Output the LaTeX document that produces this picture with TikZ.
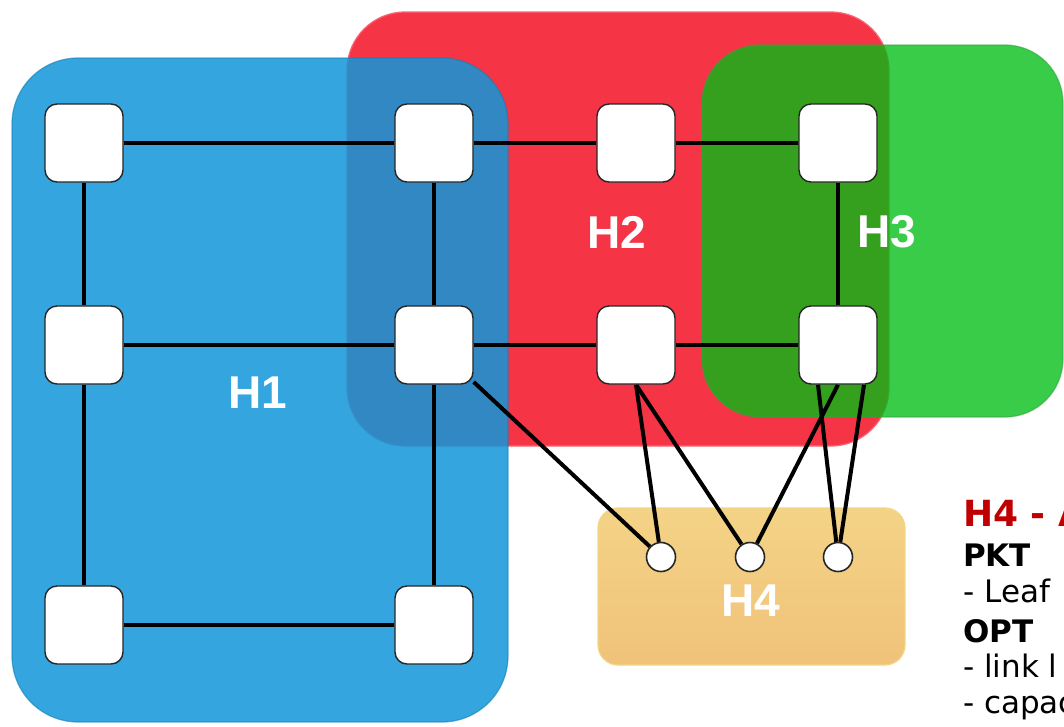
\documentclass[tikz,border=0pt]{standalone}
\usepackage{fontspec}
\newfontfamily\labelfont{Liberation Sans}
\newfontfamily\notefont{DejaVu Sans}
\pgfdeclarelayer{boxlayer}
\pgfdeclarelayer{edgelayer}
\pgfsetlayers{boxlayer,edgelayer,main}
\definecolor{hblue}{RGB}{19,150,216}
\definecolor{hred}{RGB}{245,52,70}
\definecolor{hgreen}{RGB}{0,190,20}
\definecolor{horangetop}{RGB}{243,211,134}
\definecolor{horangebot}{RGB}{240,194,122}
\definecolor{horangeline}{RGB}{244,214,128}
\definecolor{hdarkred}{RGB}{192,0,0}
\begin{document}
\begin{tikzpicture}[x=1pt,y=-1pt,
  router/.style={draw=black!85,line width=1.4pt,fill=white,rounded corners=12pt,
    minimum width=78pt,minimum height=78pt,inner sep=0pt},
  leaf/.style={circle,draw=black!85,line width=1.6pt,fill=white,minimum size=29pt,inner sep=0pt},
  link/.style={line width=4pt,black},
  hlabel/.style={text=white,inner sep=0pt,font=\labelfont\bfseries\fontsize{46}{46}\selectfont},
  notehead/.style={anchor=base west,inner sep=0pt,text=hdarkred,font=\notefont\bfseries\fontsize{36}{36}\selectfont},
  notebold/.style={anchor=base west,inner sep=0pt,font=\notefont\bfseries\fontsize{31}{31}\selectfont},
  noteplain/.style={anchor=base west,inner sep=0pt,font=\notefont\fontsize{31}{31}\selectfont},
]
\useasboundingbox (0,0) rectangle (1064,726);

\begin{pgfonlayer}{boxlayer}
  % H2 red
  \draw[fill=hred,draw=hred!75!white,line width=1.2pt,rounded corners=58pt]
    (347,12) rectangle (889,446);
  % H1 blue
  \draw[fill=hblue,fill opacity=0.86,draw=hblue!85!black,draw opacity=0.6,line width=1.2pt,rounded corners=66pt]
    (12,58) rectangle (508,722);
  % H3 green
  \draw[fill=hgreen,fill opacity=0.78,draw=hgreen!60!gray,draw opacity=0.6,line width=1.2pt,rounded corners=58pt]
    (702,45) rectangle (1063,417);
  % H4 orange
  \shade[top color=horangetop,bottom color=horangebot,rounded corners=20pt]
    (598,508) rectangle (905,665);
  \draw[draw=horangeline,line width=1.2pt,rounded corners=20pt]
    (598,508) rectangle (905,665);
\end{pgfonlayer}

% routers
\node[router] (n11) at (84,143) {};
\node[router] (n12) at (434,143) {};
\node[router] (n13) at (636,143) {};
\node[router] (n14) at (838,143) {};
\node[router] (n21) at (84,345) {};
\node[router] (n22) at (434,345) {};
\node[router] (n23) at (636,345) {};
\node[router] (n24) at (838,345) {};
\node[router] (n31) at (84,625) {};
\node[router] (n32) at (434,625) {};
% leaves
\node[leaf] (c1) at (661,557) {};
\node[leaf] (c2) at (750,557) {};
\node[leaf] (c3) at (838,557) {};

\begin{pgfonlayer}{edgelayer}
  \draw[link] (n11) -- (n12);
  \draw[link] (n12) -- (n13);
  \draw[link] (n13) -- (n14);
  \draw[link] (n21) -- (n22);
  \draw[link] (n22) -- (n23);
  \draw[link] (n23) -- (n24);
  \draw[link] (n31) -- (n32);
  \draw[link] (n11) -- (n21);
  \draw[link] (n21) -- (n31);
  \draw[link] (n12) -- (n22);
  \draw[link] (n22) -- (n32);
  \draw[link] (n14) -- (n24);
  \draw[link] (n22) -- (c1);
  \draw[link] (n23.south) -- (c1);
  \draw[link] (n23.south) -- (c2);
  \draw[link] (n24.south) -- (c2);
  \draw[link] ([xshift=-20pt]n24.south) -- (c3);
  \draw[link] ([xshift=26pt]n24.south) -- (c3);
\end{pgfonlayer}

% group labels
\node[hlabel] (h1) at (258,393) {H1};
\node[hlabel] (h2) at (617,232) {H2};
\node[hlabel] (h3) at (887,232) {H3};
\node[hlabel] (h4) at (751,601) {H4};

% side note (cut at the picture edge, as in the reference)
\node[notehead] (t1) at (963,526) {H4 - A};
\node[notebold] (t2) at (963,566) {PKT};
\node[noteplain] (t3) at (963,602) {- Leaf};
\node[notebold] (t4) at (963,642) {OPT};
\node[noteplain] (t5) at (963,677) {- link l};
\node[noteplain] (t6) at (963,713) {- capac};
\end{tikzpicture}
\end{document}
